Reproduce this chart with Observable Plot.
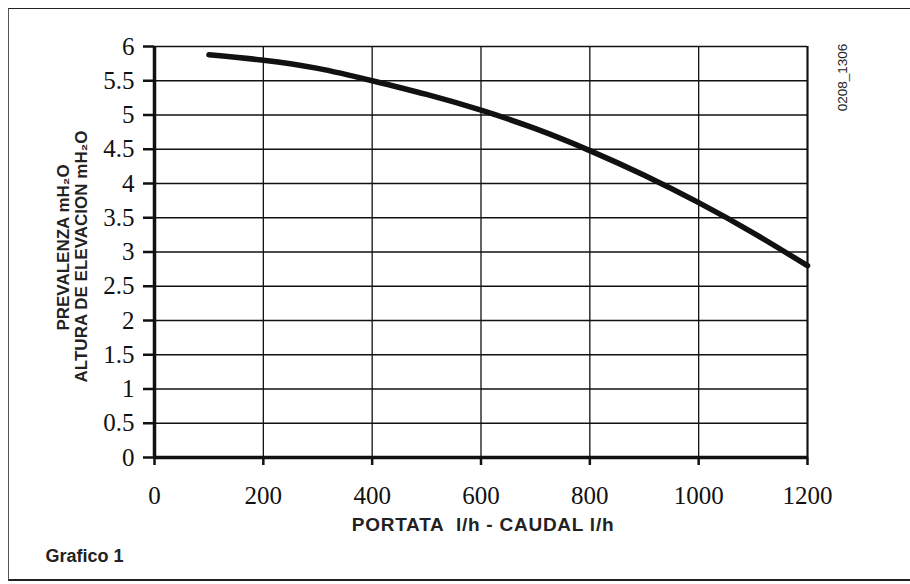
<!DOCTYPE html>
<html>
<head>
<meta charset="utf-8">
<script src="https://cdn.jsdelivr.net/npm/d3@7"></script>
<script src="https://cdn.jsdelivr.net/npm/@observablehq/plot@0.6"></script>
<style>
  html, body { margin: 0; padding: 0; background: #fff; }
  #wrap { position: relative; width: 910px; height: 584px; overflow: hidden; }
  #border { position: absolute; left: 8px; top: 8px; width: 910px; height: 573px;
            border-left: 1.5px solid #555; border-top: 1.5px solid #222; border-bottom: 2px solid #222; box-sizing: border-box; }
  #chart { position: absolute; left: 0; top: 0; }
</style>
</head>
<body>
<div id="wrap"><div id="border"></div><div id="chart"></div></div>
<script>
// Flow (l/h) and head (m H2O)
const flow = [100, 200, 300, 400, 500, 600, 700, 800, 900, 1000, 1100, 1200];
const head = [5.88, 5.80, 5.68, 5.50, 5.30, 5.07, 4.80, 4.48, 4.12, 3.72, 3.28, 2.80];
const xTicks = [0, 200, 400, 600, 800, 1000, 1200];
const yTicks = [0, 0.5, 1, 1.5, 2, 2.5, 3, 3.5, 4, 4.5, 5, 5.5, 6];
const yLabel1 = "PREVALENZA mH\u2082O";
const yLabel2 = "ALTURA DE ELEVACION mH\u2082O";
const xLabel = "PORTATA  l/h - CAUDAL l/h";
const caption = "Grafico 1";
const code = "0208_1306";

const data = flow.map((f, i) => ({flow: f, head: head[i]}));
const serif = "'Liberation Serif', 'Times New Roman', serif";
const sans = "'Liberation Sans', Arial, Helvetica, sans-serif";

const chart = Plot.plot({
  width: 910,
  height: 584,
  marginLeft: 154,
  marginRight: 103,
  marginTop: 46,
  marginBottom: 127,
  style: {background: "transparent", color: "#111"},
  x: {domain: [0, 1200]},
  y: {domain: [0, 6]},
  marks: [
    Plot.gridX(xTicks, {stroke: "#111", strokeOpacity: 1, strokeWidth: 1.3}),
    Plot.gridY(yTicks, {stroke: "#111", strokeOpacity: 1, strokeWidth: 1.3}),
    Plot.ruleX([1200], {stroke: "#111", strokeWidth: 2}),
    Plot.axisX(xTicks, {tickSize: 8, tickPadding: 21, strokeWidth: 2.5, fontSize: 25, fontFamily: serif, label: null, tickFormat: d => String(d)}),
    Plot.axisY(yTicks, {tickSize: 11, tickPadding: 9, strokeWidth: 2.5, fontSize: 25, fontFamily: serif, label: null, tickFormat: d => String(d)}),
    Plot.ruleX([0], {stroke: "#111", strokeWidth: 3.5}),
    Plot.ruleY([0], {stroke: "#111", strokeWidth: 3.5}),
    Plot.line(data, {x: "flow", y: "head", stroke: "#111", strokeWidth: 5.5, curve: "natural", strokeLinecap: "round"}),
    Plot.text([yLabel1], {frameAnchor: "left", rotate: -90, dx: -91, dy: -4.5, textAnchor: "middle", lineAnchor: "middle", fontSize: 17, fontWeight: "bold", fontFamily: sans, fill: "#222"}),
    Plot.text([yLabel2], {frameAnchor: "left", rotate: -90, dx: -73, dy: 4.5, textAnchor: "middle", lineAnchor: "middle", fontSize: 17, fontWeight: "bold", fontFamily: sans, fill: "#222"}),
    Plot.text([xLabel], {frameAnchor: "bottom", dx: 2, dy: 67, textAnchor: "middle", lineAnchor: "middle", fontSize: 19, fontWeight: "bold", fontFamily: sans, fill: "#222"}),
    Plot.text([caption], {frameAnchor: "bottom-left", dx: -109, dy: 99, textAnchor: "start", lineAnchor: "middle", fontSize: 18, fontWeight: "bold", fontFamily: sans, fill: "#222"}),
    Plot.text([code], {frameAnchor: "top-right", rotate: -90, dx: 35, dy: 31, textAnchor: "middle", lineAnchor: "middle", fontSize: 13.5, fontFamily: sans, fill: "#222"})
  ]
});
d3.select(chart).selectAll("text")
  .filter(function() { return this.textContent === xLabel; })
  .style("letter-spacing", "0.75px");
document.getElementById("chart").appendChild(chart);
</script>
</body>
</html>
